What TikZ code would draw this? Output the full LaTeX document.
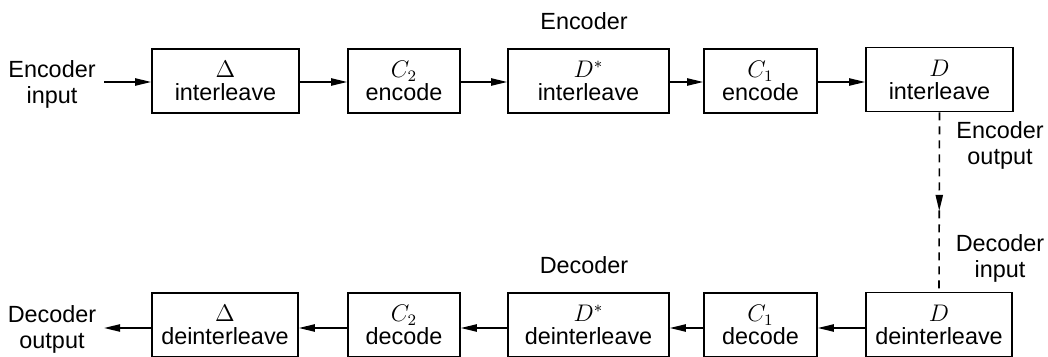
\documentclass[tikz,border=0pt]{standalone}
\usepackage{fontspec}
\setmainfont{Liberation Sans}
\usetikzlibrary{arrows.meta,decorations.markings}
\begin{document}
\begin{tikzpicture}[x=0.5pt,y=-0.5pt,
  blk/.style={draw,line width=0.8pt,minimum height=32pt,inner sep=0pt,align=center,
    font=\fontsize{11.7}{11.5}\selectfont},
  lbl/.style={align=center,inner sep=0pt,font=\fontsize{11.7}{13}\selectfont},
  flow/.style={line width=0.8pt,-{Triangle[length=8pt,width=3.6pt]}},
  every node/.style={font=\fontsize{11.7}{13}\selectfont}]
\useasboundingbox (0,0) rectangle (1048,357);
% encoder row
\node[blk,minimum width=73.5pt] (e1) at (225.5,81) {$\Delta$\\interleave};
\node[blk,minimum width=56pt] (e2) at (404,81) {$C_2$\\encode};
\node[blk,minimum width=80.5pt] (e3) at (588.5,81) {$D^*$\\interleave};
\node[blk,minimum width=56.5pt] (e4) at (760.5,81) {$C_1$\\encode};
\node[blk,minimum width=73.5pt] (e5) at (939.5,79.5) {$D$\\interleave};
% decoder row
\node[blk,minimum width=73pt] (d1) at (225,325) {$\Delta$\\deinterleave};
\node[blk,minimum width=56pt] (d2) at (404,325) {$C_2$\\decode};
\node[blk,minimum width=80.5pt] (d3) at (588.5,325) {$D^*$\\deinterleave};
\node[blk,minimum width=56.5pt] (d4) at (760.5,325) {$C_1$\\decode};
\node[blk,minimum width=73pt] (d5) at (939,324.5) {$D$\\deinterleave};
% labels
\node[lbl] (ein) at (52,84) {Encoder\\input};
\node[lbl] (eout) at (1000,145) {Encoder\\output};
\node[lbl] (din) at (1000,258) {Decoder\\input};
\node[lbl] (dout) at (52,329) {Decoder\\output};
\node[lbl] (etitle) at (584,21) {Encoder};
\node[lbl] (dtitle) at (584,265) {Decoder};
\coordinate (inS) at (104,82);
\coordinate (outE) at (104,328);
% connectors
\draw[flow] (inS) -- (e1.west |- inS);
\draw[flow] (e1.east |- inS) -- (e2.west |- inS);
\draw[flow] (e2.east |- inS) -- (e3.west |- inS);
\draw[flow] (e3.east |- inS) -- (e4.west |- inS);
\draw[flow] (e4.east |- inS) -- (e5.west |- inS);
\draw[flow] (d5.west |- outE) -- (d4.east |- outE);
\draw[flow] (d4.west |- outE) -- (d3.east |- outE);
\draw[flow] (d3.west |- outE) -- (d2.east |- outE);
\draw[flow] (d2.west |- outE) -- (d1.east |- outE);
\draw[flow] (d1.west |- outE) -- (outE);
\draw[line width=0.8pt,dash pattern=on 4pt off 3pt,
  postaction={decorate},
  decoration={markings,mark=at position 0.55 with {\arrow{Triangle[length=8pt,width=3.6pt]}}}]
  (e5.south) -- (d5.north);
\end{tikzpicture}
\end{document}
